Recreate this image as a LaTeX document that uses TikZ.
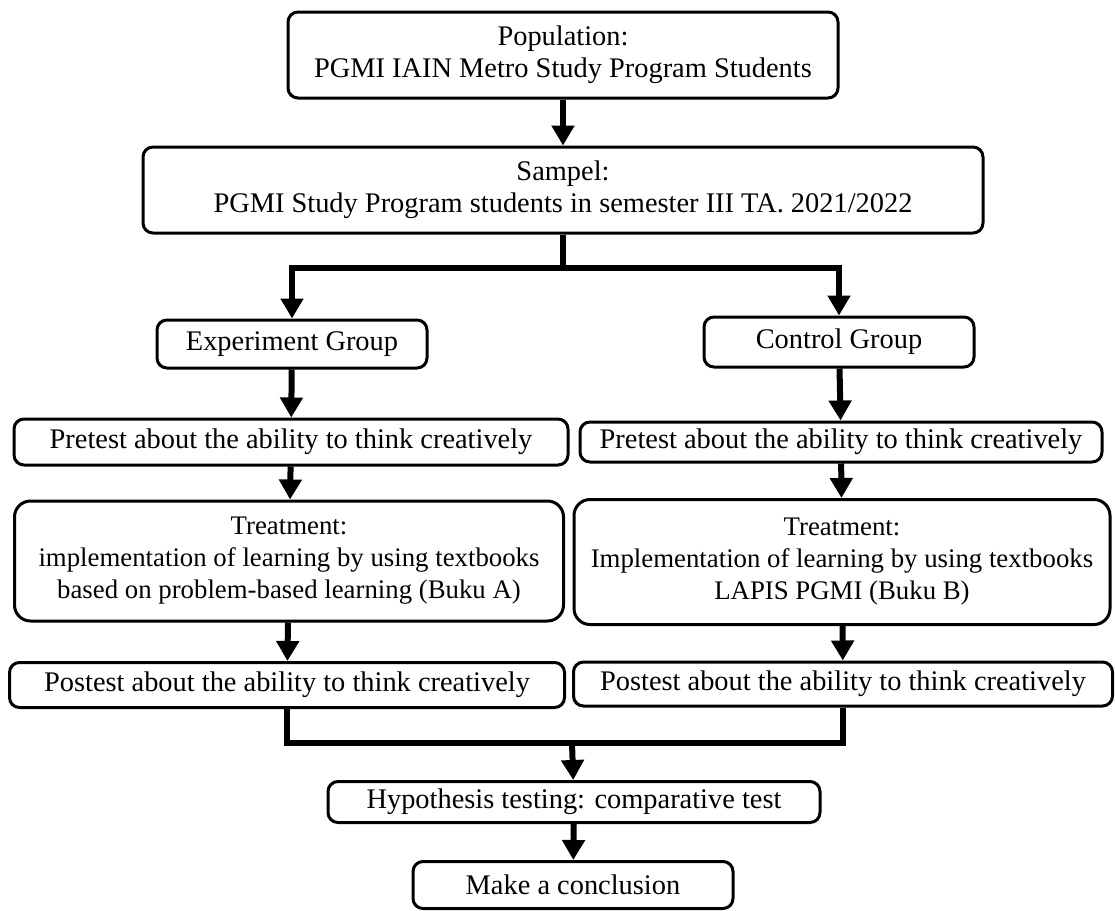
\documentclass[tikz,border=0pt]{standalone}
\usepackage{fontspec}
\setmainfont{Liberation Serif}
\usetikzlibrary{arrows.meta}
\begin{document}
\begin{tikzpicture}[x=0.5pt,y=-0.5pt, every node/.style={font=\fontsize{14.2}{16}\selectfont}]
	\tikzstyle{block} = [rectangle,draw,line width=1.5pt,rounded corners=5pt,inner sep=0pt,align=center]
	\tikzstyle{treat} = [block,rounded corners=8pt,font=\fontsize{13.4}{16}\selectfont]
	\tikzstyle{arr} = [line width=3pt,-{Triangle[width=11pt,length=10pt]}]
	\tikzstyle{wire} = [line width=3pt]
	\useasboundingbox (0,0) rectangle (1115,911);
	\node[block,minimum width=275pt,minimum height=43pt](pop)at (563,55){Population:\\PGMI IAIN Metro Study Program Students};
	\node[block,minimum width=420pt,minimum height=43pt](sam)at (563,190){Sampel:\\PGMI Study Program students in semester III TA. 2021/2022};
	\node[block,minimum width=135pt,minimum height=24pt](exp)at (292,344){Experiment Group};
	\node[block,minimum width=135pt,minimum height=25pt](con)at (839,342){Control Group};
	\node[block,minimum width=277pt,minimum height=23pt](preA)at (291,442){Pretest about the ability to think creatively};
	\node[block,minimum width=261pt,minimum height=20pt](preB)at (841,442){Pretest about the ability to think creatively};
	\node[treat,minimum width=274.5pt,minimum height=60pt](treA)at (289,561){Treatment:\\implementation of learning by using textbooks\\based on problem-based learning (Buku A)};
	\node[treat,minimum width=268pt,minimum height=62.5pt](treB)at (842,562){Treatment:\\Implementation of learning by using textbooks\\LAPIS PGMI (Buku B)};
	\node[block,minimum width=277.5pt,minimum height=22.5pt](posA)at (287,685){Postest about the ability to think creatively};
	\node[block,minimum width=269.5pt,minimum height=22pt](posB)at (843,684){Postest about the ability to think creatively};
	\node[block,minimum width=246pt,minimum height=20.5pt](hyp)at (574,802){Hypothesis testing: comparative test};
	\node[block,minimum width=160pt,minimum height=23.5pt](conc)at (573,885){Make a conclusion};
	\coordinate (split) at (563,268);
	\coordinate (merge) at (572,743);
	\path[arr] (pop) edge (sam)
	(exp) edge (preA)
	(preA) edge (treA)
	(treA) edge (posA)
	(con) edge (preB)
	(preB) edge (treB)
	(treB) edge (posB)
	(merge) edge (hyp)
	(hyp) edge (conc);
	\draw[wire] (sam) -- (split);
	\draw[arr] (split) -| (exp);
	\draw[arr] (split) -| (con);
	\draw[wire] (posA) |- (merge) -| (posB);
\end{tikzpicture}
\end{document}
